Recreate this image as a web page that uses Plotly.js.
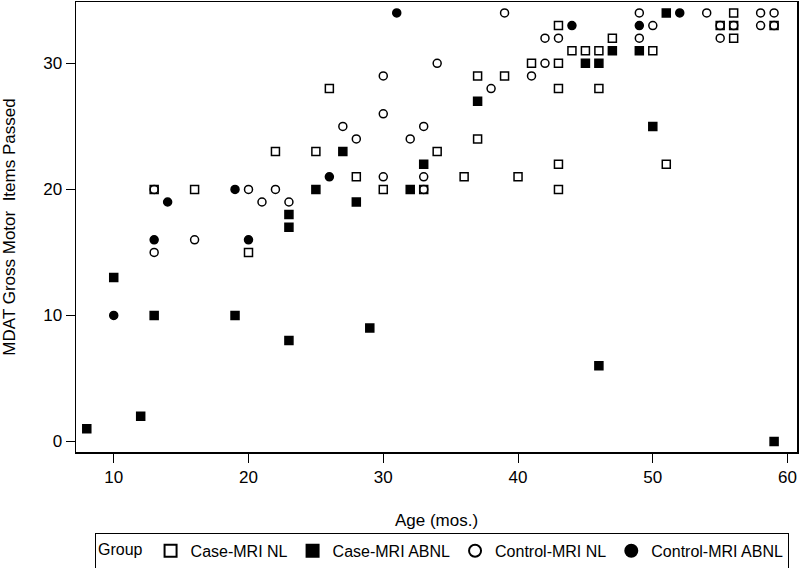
<!DOCTYPE html>
<html>
<head>
<meta charset="utf-8">
<script src="https://cdn.plot.ly/plotly-3.0.1.min.js"></script>
<style>html,body{margin:0;padding:0;background:#fff;}#chart{width:800px;height:568px;}</style>
</head>
<body>
<div id="chart"></div>
<script>
// Case-MRI NL
const caseNL_x = [13,16,20,22,25,26,28,30,33,34,36,37,37,39,40,41,43,43,43,43,43,44,45,46,46,47,50,51,55,56,56,56,59];
const caseNL_y = [20,20,15,23,23,28,21,20,20,23,21,29,24,29,21,30,30,33,28,22,20,31,31,31,28,32,31,22,33,34,33,32,33];
// Case-MRI ABNL
const caseABNL_x = [8,10,12,13,19,23,23,23,25,27,28,29,32,33,37,45,46,46,47,49,50,51,59];
const caseABNL_y = [1,13,2,10,10,18,17,8,20,23,19,9,20,22,27,30,30,6,31,31,25,34,0];
// Control-MRI NL
const ctrlNL_x = [13,13,16,20,21,22,23,27,28,30,30,30,32,33,33,33,34,38,39,41,42,42,43,49,49,50,54,55,55,56,58,58,59,59];
const ctrlNL_y = [20,15,16,20,19,20,19,25,24,29,26,21,24,25,21,20,30,28,34,29,32,30,32,34,32,33,34,33,32,33,34,33,34,33];
// Control-MRI ABNL
const ctrlABNL_x = [10,13,14,19,20,26,31,44,49,52];
const ctrlABNL_y = [10,16,19,20,16,21,34,33,33,34];

const groupNames = ["Case-MRI NL","Case-MRI ABNL","Control-MRI NL","Control-MRI ABNL"];
const xTicks = [10,20,30,40,50,60];
const yTicks = [0,10,20,30];

const FONT = "Liberation Sans, Arial, sans-serif";
function tr(x, y, name, symbol, size) {
  return {x: x, y: y, name: name, type: "scatter", mode: "markers",
    marker: {symbol: symbol, size: size, color: "#000", line: {color: "#000", width: 1.5}}};
}
const data = [
  tr(caseNL_x, caseNL_y, groupNames[0], "square-open", 8),
  tr(caseABNL_x, caseABNL_y, groupNames[1], "square", 8),
  tr(ctrlNL_x, ctrlNL_y, groupNames[2], "circle-open", 8),
  tr(ctrlABNL_x, ctrlABNL_y, groupNames[3], "circle", 8)
];
const axisCommon = {
  showline: true, mirror: true, linecolor: "#000", linewidth: 1.5,
  ticks: "outside", ticklen: 9, tickwidth: 1, tickcolor: "#000",
  showgrid: false, zeroline: false, automargin: false,
  tickfont: {family: FONT, size: 17, color: "#000"}
};
const layout = {
  width: 800, height: 568,
  margin: {l: 76, r: 3, t: 2, b: 116},
  paper_bgcolor: "#fff", plot_bgcolor: "#fff",
  font: {family: FONT, size: 16, color: "#000"},
  xaxis: Object.assign({}, axisCommon, {
    range: [7.2, 60.7], tickvals: xTicks,
    title: {text: "Age (mos.)", font: {family: FONT, size: 17, color: "#000"}, standoff: 28}
  }),
  yaxis: Object.assign({}, axisCommon, {
    range: [-0.84, 34.87], tickvals: yTicks,
    title: {text: "MDAT Gross Motor  Items Passed", font: {family: FONT, size: 17, color: "#000"}, standoff: 25}
  }),
  showlegend: true,
  legend: {
    orientation: "h", xref: "container", yref: "container",
    x: 0.11875, xanchor: "left", y: 0.062, yanchor: "top",
    bordercolor: "#000", borderwidth: 1, bgcolor: "#fff",
    title: {text: "Group", side: "left", font: {family: FONT, size: 16, color: "#000"}},
    font: {family: FONT, size: 16, color: "#000"},
    itemsizing: "constant"
  }
};
Plotly.newPlot("chart", data, layout, {displayModeBar: false, staticPlot: true});
</script>
</body>
</html>
